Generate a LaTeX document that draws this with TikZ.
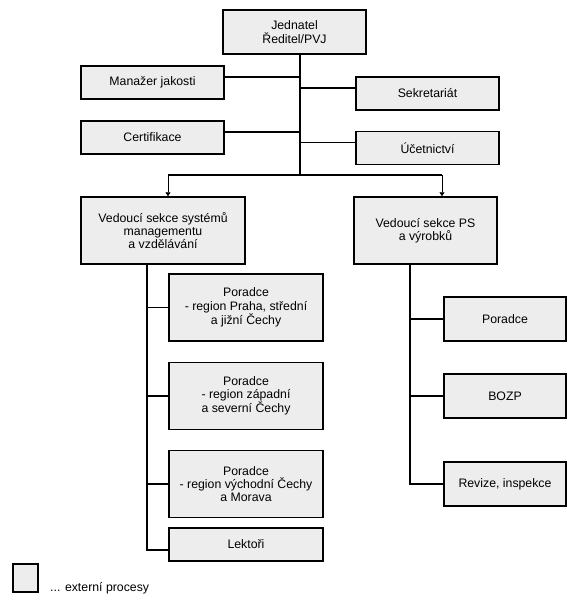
\documentclass[tikz,border=0pt]{standalone}
\usepackage{fontspec}
\setmainfont{Liberation Sans}
\usetikzlibrary{arrows.meta}
\definecolor{extgray}{gray}{0.93}

\begin{document}
\begin{tikzpicture}[x=1pt, y=-1pt,
		box/.style={draw, line width=1.5pt, fill=extgray, align=center, inner sep=0pt,
			font=\fontsize{12.3}{13.3}\selectfont},
		wire/.style={line width=1.5pt},
		feed/.style={line width=0.7pt, -{Triangle[width=5pt, length=4pt]}}]
	\useasboundingbox (0,0) rectangle (578,600);
	% top level
	\node[box, minimum width=143pt, minimum height=44pt] (jed) at (294.5,32) {Jednatel\\Ředitel/PVJ};
	\node[box, minimum width=143pt, minimum height=33pt] (man) at (152.5,82.5) {Manažer jakosti};
	\node[box, minimum width=143pt, minimum height=33pt] (sek) at (427.5,93.5) {Sekretariát};
	\node[box, minimum width=143pt, minimum height=33pt] (cer) at (152.5,137.5) {Certifikace};
	\node[box, minimum width=143pt, minimum height=33pt] (uce) at (427.5,148) {Účetnictví};
	\coordinate (hub) at (300,175);
	\coordinate (lbar) at (168,175);
	\coordinate (rbar) at (442,175);
	\draw[wire] (jed.south -| hub) -- (hub);
	\foreach \n in {man, cer}
	{
		\draw[wire] ([yshift=5.5pt]\n.east) -- ([yshift=5.5pt]\n.east -| hub);
	}
	\foreach \n in {sek, uce}
	{
		\draw[wire] ([yshift=5.5pt]\n.west) -- ([yshift=5.5pt]\n.west -| hub);
	}
	% sections
	\node[box, minimum width=164pt, minimum height=67pt] (vl) at (163,230.5) {Vedoucí sekce systémů\\managementu\\a vzdělávání};
	\node[box, minimum width=143pt, minimum height=67pt] (vr) at (425.5,230.5) {Vedoucí sekce PS\\a výrobků};
	\draw[wire] (lbar) -- (rbar);
	\draw[feed] (lbar) -- (lbar |- vl.north);
	\draw[feed] (rbar) -- (rbar |- vr.north);
	% left branch
	\node[box, minimum width=154pt, minimum height=67pt] (p1) at (246,307.5) {Poradce\\- region Praha, střední\\a jižní Čechy};
	\node[box, minimum width=154pt, minimum height=67pt] (p2) at (246,396) {Poradce\\- region západní\\a severní Čechy};
	\node[box, minimum width=154pt, minimum height=67pt] (p3) at (246,484) {Poradce\\- region východní Čechy\\a Morava};
	\node[box, minimum width=154pt, minimum height=33pt] (lek) at (246,544.5) {Lektoři};
	\coordinate (lspine) at (147,264);
	\draw[wire] (lspine) |- ([yshift=-5.5pt]lek.west);
	\foreach \n in {p1, p2, p3}
	{
		\draw[wire] (lspine |- \n.west) -- (\n.west);
	}
	% right branch
	\node[box, minimum width=122pt, minimum height=44pt] (r1) at (505,319) {Poradce};
	\node[box, minimum width=122pt, minimum height=44pt] (r2) at (505,396) {BOZP};
	\node[box, minimum width=122pt, minimum height=44pt] (r3) at (505,484) {Revize, inspekce};
	\coordinate (rspine) at (410,264);
	\draw[wire] (rspine) |- (r3.west);
	\foreach \n in {r1, r2}
	{
		\draw[wire] (rspine |- \n.west) -- (\n.west);
	}
	% legend
	\node[box, minimum width=25pt, minimum height=28pt] (leg) at (25.5,578) {};
	\node[anchor=base west, inner sep=0pt, font=\fontsize{12.3}{13.3}\selectfont] (legtext) at (50,591) {... externí procesy};
\end{tikzpicture}
\end{document}
